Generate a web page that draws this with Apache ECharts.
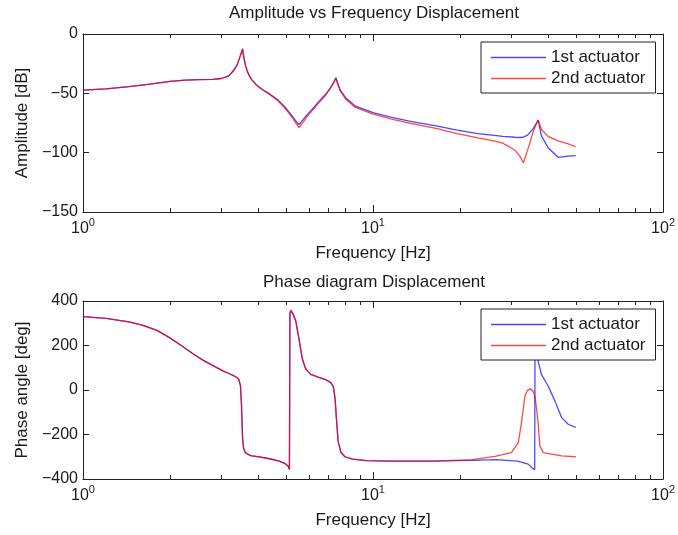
<!DOCTYPE html>
<html>
<head>
<meta charset="utf-8">
<title>Amplitude and phase of displacement</title>
<script src="https://cdn.jsdelivr.net/npm/echarts@6/dist/echarts.min.js"></script>
<style>
  html, body { margin: 0; padding: 0; background: #fff; }
  #chart { width: 678px; height: 535px; }
  #dbg { position: absolute; left: 0; bottom: 0; font: 10px monospace; color: #c00; max-width: 670px; }
</style>
</head>
<body>
<div id="chart"></div>
<div id="dbg"></div>
<script>
var problems = []
function report() { document.getElementById('dbg').textContent = problems.join(' | ') }
window.onerror = function (m) { problems.push('ERR ' + m); report() }

// frequency [Hz] and amplitude [dB]
var ampFreq = [1, 1.2, 1.44, 1.7, 2.0, 2.25, 2.5, 2.8, 3.0, 3.18, 3.3, 3.4, 3.49, 3.55, 3.58, 3.63, 3.68, 3.75,
  3.82, 3.95, 4.14, 4.4, 4.7, 4.95, 5.12, 5.3, 5.45, 5.55, 5.62, 5.75, 5.95, 6.16, 6.5, 6.85, 7.1, 7.31,
  7.45, 7.55, 7.7, 8.03, 8.66, 10, 11.5, 13.6, 16.5, 19.5, 23, 26.6, 28, 30.9, 32, 33, 34.2, 35.6,
  36.6, 37.1, 38.1, 40.2, 43.5, 47.1, 50]
var amp1 = [-47.3, -46.2, -44.4, -42.2, -40, -38.8, -38.4, -38.3, -37.5, -35.3, -31, -26, -18, -12.5, -19, -26, -31, -35.5,
  -38.5, -42.5, -46.5, -50.5, -55.5, -61, -65.5, -70, -74, -76.5, -75, -72, -67.5, -63.5, -57, -51, -46, -41,
  -36.8, -41.5, -47, -53.5, -60.5, -66.3, -70, -73.8, -77.5, -81, -84, -85.7, -86.3, -87, -87.2, -87, -85, -80,
  -75.5, -72.5, -86, -96, -103.9, -103, -102.5]
var amp2 = [-47.3, -46.2, -44.4, -42.2, -40, -38.8, -38.4, -38.3, -37.5, -35.3, -31, -26, -18, -12.5, -19, -26, -31, -35.5,
  -38.6, -42.7, -46.8, -51, -56.2, -62, -66.5, -71.5, -76, -79, -77.5, -74, -69, -64.8, -58, -51.8, -46.5, -41.5,
  -37.2, -42, -47.8, -54.5, -61.7, -67.6, -71.5, -75.5, -79.5, -84, -87.5, -90.5, -92, -98, -102.5, -108.5, -97, -83,
  -75, -72.5, -80.5, -86.5, -90, -92.6, -95]

// phase [deg]
var phaseFreq1 = [1, 1.2, 1.44, 1.6, 1.8, 2.0, 2.2, 2.4, 2.6, 2.86, 3.05, 3.2, 3.33, 3.4, 3.45, 3.49, 3.52, 3.55,
  3.58, 3.63, 3.78, 4.1, 4.4, 4.75, 4.98, 5.1, 5.15, 5.17, 5.21, 5.3, 5.42, 5.55, 5.7, 5.85, 6.1, 6.5, 6.9,
  7.15, 7.3, 7.4, 7.48, 7.58, 7.75, 8.0, 8.5, 9.5, 11.5, 16, 22, 26.5, 31.5, 34.3, 35.2, 36.1, 36.2,
  36.6, 37.1, 38.1, 40.2, 42.4, 44.7, 47.1, 50]
var phase1 = [330, 322, 306, 292, 268, 233, 197, 162, 133, 104, 85, 73, 62, 56, 45, 21, -69, -218,
  -262, -282, -295, -302, -309, -320, -331, -343, -357, 345, 354, 340, 305, 230, 140, 95, 70, 57, 45,
  33, 15, -40, -130, -230, -280, -300, -311, -317, -320, -320, -316, -313, -320, -333, -348, -358, 355,
  230, 129, 69, 17, -50, -124, -154, -168]
var phaseFreq2 = [1, 1.2, 1.44, 1.6, 1.8, 2.0, 2.2, 2.4, 2.6, 2.86, 3.05, 3.2, 3.33, 3.4, 3.45, 3.49, 3.52, 3.55,
  3.58, 3.63, 3.78, 4.1, 4.4, 4.75, 4.98, 5.1, 5.15, 5.17, 5.21, 5.3, 5.42, 5.55, 5.7, 5.85, 6.1, 6.5, 6.9,
  7.15, 7.3, 7.4, 7.48, 7.58, 7.75, 8.0, 8.5, 9.5, 11.5, 16, 22, 26.3, 30, 31.7, 32.5, 33.4, 34.0,
  34.8, 35.6, 36.2, 37.1, 37.6, 38.6, 44.7, 50]
var phase2 = [330, 322, 306, 292, 268, 233, 197, 162, 133, 104, 85, 73, 62, 56, 45, 21, -69, -218,
  -262, -282, -295, -302, -309, -320, -331, -343, -357, 350, 360, 345, 312, 236, 145, 98, 70, 57, 45,
  33, 15, -40, -130, -230, -280, -300, -311, -317, -320, -320, -313, -298, -281, -236, -147, -28, -3,
  5, -5, -28, -147, -251, -281, -296, -300]

var seriesNames = ['1st actuator', '2nd actuator']
var majorTicks = [1, 10, 100]
var minorTicks = [2, 3, 4, 5, 6, 7, 8, 9, 20, 30, 40, 50, 60, 70, 80, 90]

var textColor = '#1a1a1a'
var frameColor = '#222'
var font = 'Liberation Sans, Arial, Helvetica, sans-serif'
var majorLen = 7
var minorLen = 4

function pairs(xs, ys) {
  return xs.map(function (x, i) { return [x, ys[i]] })
}

function expLabel(v) {
  return '{b|10}{s|' + Math.round(Math.log10(v)) + '}'
}

function minusSign(v) {
  return String(v).replace('-', '\u2212')
}

function freqAxes(gridIndex) {
  var line = { show: true, onZero: false, lineStyle: { color: frameColor, width: 1 } }
  return [
    {
      gridIndex: gridIndex, type: 'log', logBase: 10, min: 1, max: 100, position: 'bottom',
      axisLine: line,
      axisTick: { show: false },
      splitLine: { show: false },
      axisLabel: {
        customValues: majorTicks,
        formatter: expLabel,
        margin: 8,
        color: textColor,
        rich: {
          b: { fontSize: 16, fontFamily: font, color: textColor, lineHeight: 17, verticalAlign: 'bottom' },
          s: { fontSize: 11, fontFamily: font, color: textColor, lineHeight: 11, padding: [0, 0, 9, 0], verticalAlign: 'bottom' }
        }
      },
      name: 'Frequency [Hz]',
      nameLocation: 'middle',
      nameGap: 33,
      nameTextStyle: { fontSize: 17, fontFamily: font, color: textColor }
    },
    {
      gridIndex: gridIndex, type: 'log', logBase: 10, min: 1, max: 100, position: 'top',
      axisLine: line, axisTick: { show: false }, axisLabel: { show: false }, splitLine: { show: false }
    }
  ]
}

function valueAxes(gridIndex, min, max, interval, name) {
  var line = { show: true, onZero: false, lineStyle: { color: frameColor, width: 1 } }
  var tick = { show: true, inside: true, length: 6, lineStyle: { color: frameColor } }
  return [
    {
      gridIndex: gridIndex, type: 'value', position: 'left', min: min, max: max, interval: interval,
      axisLine: line, axisTick: tick, splitLine: { show: false },
      axisLabel: { formatter: minusSign, margin: 5, fontSize: 16, fontFamily: font, color: textColor },
      name: name, nameLocation: 'middle', nameGap: 51,
      nameTextStyle: { fontSize: 17, fontFamily: font, color: textColor }
    },
    {
      gridIndex: gridIndex, type: 'value', position: 'right', min: min, max: max, interval: interval,
      axisLine: line, axisTick: tick, splitLine: { show: false }, axisLabel: { show: false }
    }
  ]
}

function legendAt(top) {
  return {
    data: seriesNames,
    orient: 'vertical',
    left: 481,
    top: top,
    icon: 'rect',
    itemWidth: 55,
    itemHeight: 1.4,
    itemGap: 4,
    padding: [7, 10, 6, 10],
    borderColor: frameColor,
    borderWidth: 1,
    borderRadius: 0,
    backgroundColor: '#fff',
    z: 10,
    textStyle: { fontSize: 17, fontFamily: font, color: textColor, lineHeight: 17 }
  }
}

var blue = 'rgba(0, 0, 255, 0.72)'
var red = 'rgba(255, 0, 0, 0.72)'

function curve(name, xIdx, yIdx, data, color) {
  return {
    type: 'line', name: name, xAxisIndex: xIdx, yAxisIndex: yIdx, data: data,
    symbol: 'none', lineStyle: { width: 1.3, color: color }, itemStyle: { color: color }
  }
}

var chart = echarts.init(document.getElementById('chart'))
try {
  chart.setOption({
    animation: false,
    backgroundColor: '#fff',
    textStyle: { fontFamily: font },
    title: [
      { text: 'Amplitude vs Frequency Displacement', left: 369, top: 0, textAlign: 'center',
        textStyle: { fontSize: 17, fontWeight: 'normal', fontFamily: font, color: textColor } },
      { text: 'Phase diagram Displacement', left: 369, top: 269, textAlign: 'center',
        textStyle: { fontSize: 17, fontWeight: 'normal', fontFamily: font, color: textColor } }
    ],
    legend: [legendAt(42), legendAt(309)],
    grid: [
      { left: 83, top: 34, width: 581, height: 178 },
      { left: 83, top: 301, width: 581, height: 178 }
    ],
    xAxis: freqAxes(0).concat(freqAxes(1)),
    yAxis: valueAxes(0, -150, 0, 50, 'Amplitude [dB]').concat(valueAxes(1, -400, 400, 200, 'Phase angle [deg]')),
    series: [
      curve(seriesNames[0], 0, 0, pairs(ampFreq, amp1), blue),
      curve(seriesNames[1], 0, 0, pairs(ampFreq, amp2), red),
      curve(seriesNames[0], 2, 2, pairs(phaseFreq1, phase1), blue),
      curve(seriesNames[1], 2, 2, pairs(phaseFreq2, phase2), red)
    ]
  })
} catch (e) { problems.push('main ' + e.message) }

// log ticks (decades and 2..9) on bottom and top edges, placed through the axes
function tickLines(xIdx, yIdx, yMin, yMax) {
  var out = []
  var finder = { xAxisIndex: xIdx, yAxisIndex: yIdx }
  majorTicks.concat(minorTicks).forEach(function (f, i) {
    var len = i < majorTicks.length ? majorLen : minorLen
    var b = chart.convertToPixel(finder, [f, yMin])
    var t = chart.convertToPixel(finder, [f, yMax])
    if (!b || !t || isNaN(b[0])) { problems.push('px ' + f + ' ' + JSON.stringify(b)); return }
    var x = Math.round(b[0]) + 0.5
    var style = { stroke: frameColor, lineWidth: 1 }
    out.push({ type: 'line', silent: true, z: 100, shape: { x1: x, y1: Math.round(b[1]), x2: x, y2: Math.round(b[1]) - len }, style: style })
    out.push({ type: 'line', silent: true, z: 100, shape: { x1: x, y1: Math.round(t[1]), x2: x, y2: Math.round(t[1]) + len }, style: style })
  })
  return out
}

try {
  chart.setOption({ graphic: { elements: tickLines(0, 0, -150, 0).concat(tickLines(2, 2, -400, 400)) } })
} catch (e) { problems.push('ticks ' + e.message) }
if (problems.length) report()
</script>
</body>
</html>
